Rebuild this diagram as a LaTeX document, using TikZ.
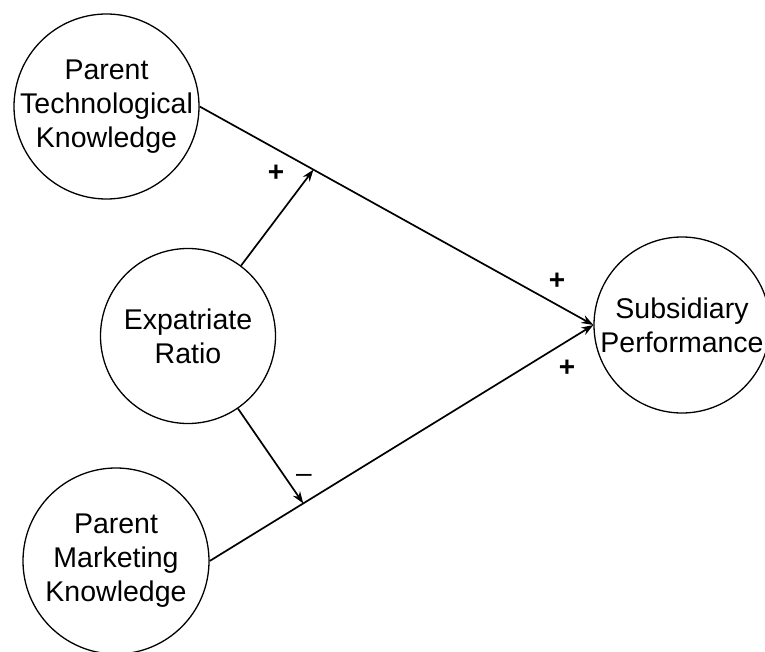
\documentclass[tikz,border=0pt]{standalone}
\usepackage{fontspec}
\setmainfont{Liberation Sans}
\usetikzlibrary{shapes, arrows.meta, positioning}

\begin{document}
\begin{tikzpicture}[x=1pt, y=-1pt, ->, >={Stealth[length=12pt, width=8.5pt]}, line width=1.7pt,
    construct/.style={circle, draw, -, line width=1.3pt, minimum size=#1, inner sep=0pt},
    cname/.style={align=center, font=\fontsize{28.5}{34}\selectfont, inner sep=0pt},
    sign/.style={font=\fontsize{28}{34}\selectfont, inner sep=0pt}]
                        \useasboundingbox (0,0) rectangle (765,652);
                        \node [construct=185] (tech) at (106.5, 106.5) {};
                        \node [construct=175] (expat) at (188, 336) {};
                        \node [construct=186] (mkt) at (116, 561) {};
                        \node [construct=176] (sub) at (682, 325) {};

                        \node [cname] (techtxt) at (tech) {Parent\\Technological\\Knowledge};
                        \node [cname] (expattxt) at (expat) {Expatriate\\Ratio};
                        \node [cname] (mkttxt) at (mkt) {Parent\\Marketing\\Knowledge};
                        \node [cname] (subtxt) at (sub) {Subsidiary\\Performance};

                        \path (tech.east) edge (sub.west);
                        \path (mkt.east) edge (sub.west);

                        \path (tech.east) -- (sub.west) coordinate [pos=0.289] (techmod);
                        \path (mkt.east) -- (sub.west) coordinate [pos=0.244] (mktmod);
                        \path (expat) edge (techmod);
                        \path (expat) edge (mktmod);

                        \node [sign, font=\bfseries\fontsize{28}{34}\selectfont] (plustech) at (557, 281) {+};
                        \node [sign, font=\bfseries\fontsize{28}{34}\selectfont] (plusmkt) at (567, 368) {+};
                        \node [sign, font=\bfseries\fontsize{28}{34}\selectfont] (plusmodtech) at (276, 173) {+};
                        \node [sign] (minusmodmkt) at (304, 478) {--};
                    \end{tikzpicture}
\end{document}
